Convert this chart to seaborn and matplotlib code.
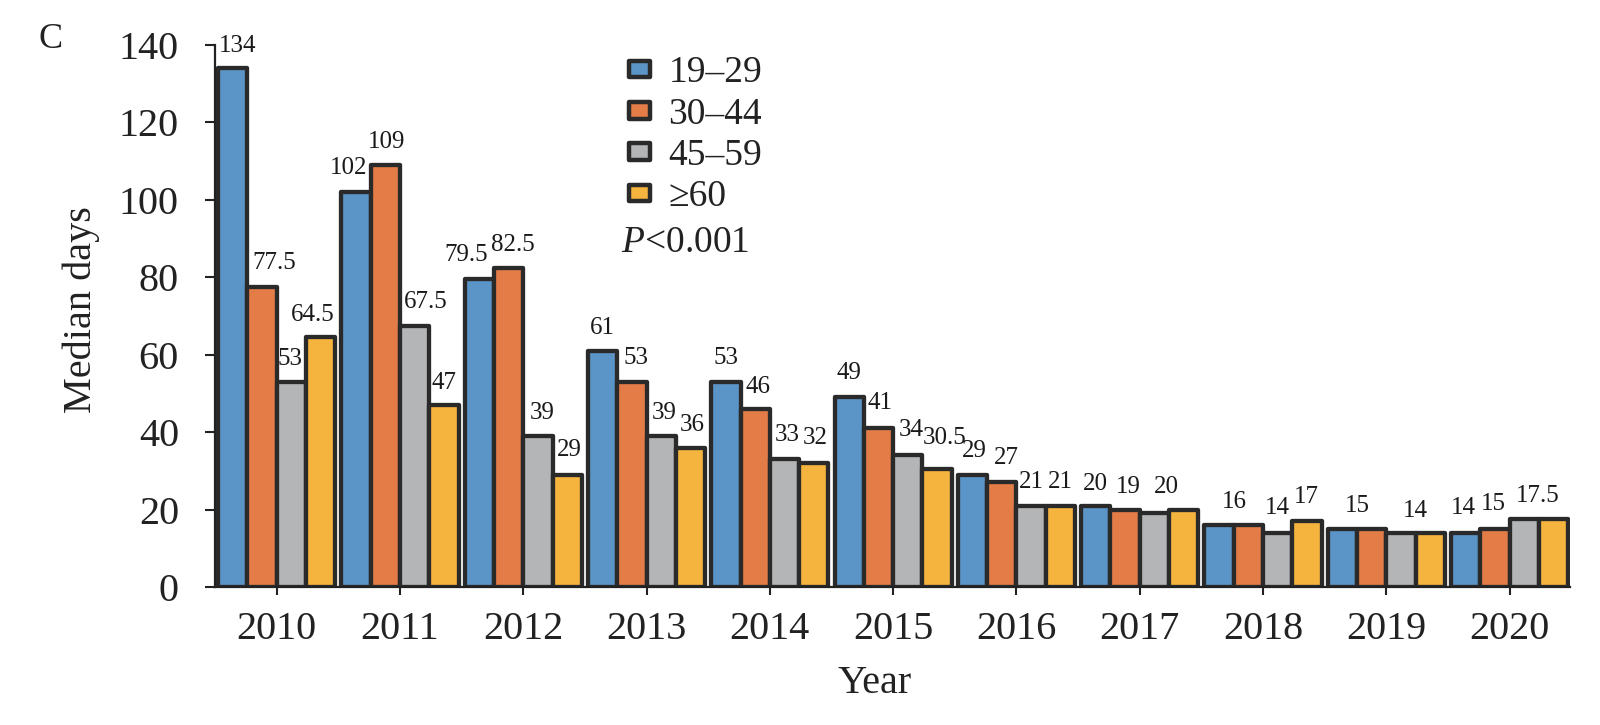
import matplotlib
matplotlib.use("Agg")
import matplotlib.pyplot as plt
import seaborn as sns
import pandas as pd

# ---------------- data ----------------
years = ["2010", "2011", "2012", "2013", "2014", "2015", "2016", "2017", "2018", "2019", "2020"]
groups = ["19\u201329", "30\u201344", "45\u201359", "\u226560"]

vals_19_29 = [134, 102, 79.5, 61, 53, 49, 29, 21, 16, 15, 14]
vals_30_44 = [77.5, 109, 82.5, 53, 46, 41, 27, 20, 16, 15, 15]
vals_45_59 = [53, 67.5, 39, 39, 33, 34, 21, 19, 14, 14, 17.5]
vals_60p = [64.5, 47, 29, 36, 32, 30.5, 21, 20, 17, 14, 17.5]

# value labels as printed in the figure ("" = no label)
lab_19_29 = ["134", "102", "79.5", "61", "53", "49", "29", "20", "16", "15", "14"]
lab_30_44 = ["77.5", "109", "82.5", "53", "46", "41", "27", "19", "", "", "15"]
lab_45_59 = ["53", "67.5", "39", "39", "33", "34", "21", "", "14", "", ""]
lab_60p = ["64.5", "47", "29", "36", "32", "30.5", "21", "20", "17", "14", "17.5"]

# ---------------- style / placement ----------------
colors = ["#5b94c6", "#e37c47", "#b4b5b7", "#f5b43d"]
edge = "#2a2a2a"

# label offsets in pixels relative to bar top centre
dx_all = [
    [5, -7, -13, 0, 0, 0, 2, 0, 15, 15, -2],
    [12, 1, 4, 4, 3, 2, 5, 3, 0, 0, -2],
    [-1, 11, 4, 3, 3, 3, 0, 0, 0, 0, 0],
    [-8, 0, 2, 2, 2, 8, 0, -17, -1, -15, -16],
]
dy_all = [
    [22, 24, 24, 23, 24, 24, 24, 22, 23, 23, 25],
    [24, 23, 23, 24, 22, 25, 24, 23, 0, 0, 25],
    [23, 24, 23, 23, 24, 25, 24, 0, 25, 0, 0],
    [22, 22, 25, 23, 25, 31, 24, 23, 24, 22, 23],
]

sns.set_style("ticks")
plt.rcParams["font.family"] = ["Liberation Serif", "DejaVu Serif"]
plt.rcParams["mathtext.fontset"] = "custom"
plt.rcParams["mathtext.rm"] = "Liberation Serif"
plt.rcParams["mathtext.it"] = "Liberation Serif:italic"

df = pd.DataFrame({
    "Year": years * 4,
    "Median": vals_19_29 + vals_30_44 + vals_45_59 + vals_60p,
    "Group": [g for g in groups for _ in years],
})
labels_all = [lab_19_29, lab_30_44, lab_45_59, lab_60p]

W, H = 1600, 725
fig = plt.figure(figsize=(W / 100, H / 100), dpi=100)
ax = fig.add_axes([215 / W, (H - 587) / H, 1355 / W, 542 / H])

sns.barplot(data=df, x="Year", y="Median", hue="Group", order=years, hue_order=groups,
            palette=dict(zip(groups, colors)), width=0.95, saturation=1,
            edgecolor=edge, linewidth=3.1, errorbar=None, ax=ax)

for ci, cont in enumerate(ax.containers):
    for j, bar in enumerate(cont):
        bar.set_joinstyle("round")
        txt = labels_all[ci][j]
        if not txt:
            continue
        xc = bar.get_x() + bar.get_width() / 2
        ax.annotate(txt, xy=(xc, bar.get_height()), xytext=(dx_all[ci][j], dy_all[ci][j]),
                    textcoords="offset pixels", ha="center", va="center",
                    fontsize=18, color="#1a1a1a")

ax.set_xlim(-0.5, 10.49)
ax.set_ylim(0, 140)
ax.set_yticks(range(0, 141, 20))
for s in ["top", "right"]:
    ax.spines[s].set_visible(False)
for s in ["left", "bottom"]:
    ax.spines[s].set_linewidth(1.6)
    ax.spines[s].set_color("#222222")

ax.tick_params(axis="y", direction="out", length=7, width=1.5, pad=19, labelsize=29, colors="#222222")
ax.tick_params(axis="x", direction="out", length=6, width=1.5, pad=11, labelsize=29, colors="#222222")

ax.set_xlabel("Year", fontsize=29, color="#222222")
ax.set_ylabel("Median days", fontsize=29, color="#222222")
ax.xaxis.set_label_coords((875 - 215) / 1355, (587 - 665) / 542)
ax.yaxis.set_label_coords((100 - 215) / 1355, (587 - 310) / 542)

handles, labs = ax.get_legend_handles_labels()
leg = ax.legend(handles, labs, loc="upper left", bbox_to_anchor=(629 / W, 1 - 56 / H),
                bbox_transform=fig.transFigure, frameon=False, fontsize=27,
                handlelength=0.55, handleheight=0.3, handletextpad=0.5,
                labelspacing=0.18, borderpad=0, borderaxespad=0)
for t in leg.get_texts():
    t.set_color("#222222")
for h in leg.legend_handles:
    h.set_joinstyle("round")
    h.set_linewidth(3.2)

fig.text(621 / W, 1 - 243 / H, "$P$<0.001", fontsize=27, ha="left", va="center", color="#222222")
fig.text(51 / W, 1 - 40 / H, "C", fontsize=26, ha="center", va="center", color="#222222")

fig.savefig("out.png", dpi=100)
